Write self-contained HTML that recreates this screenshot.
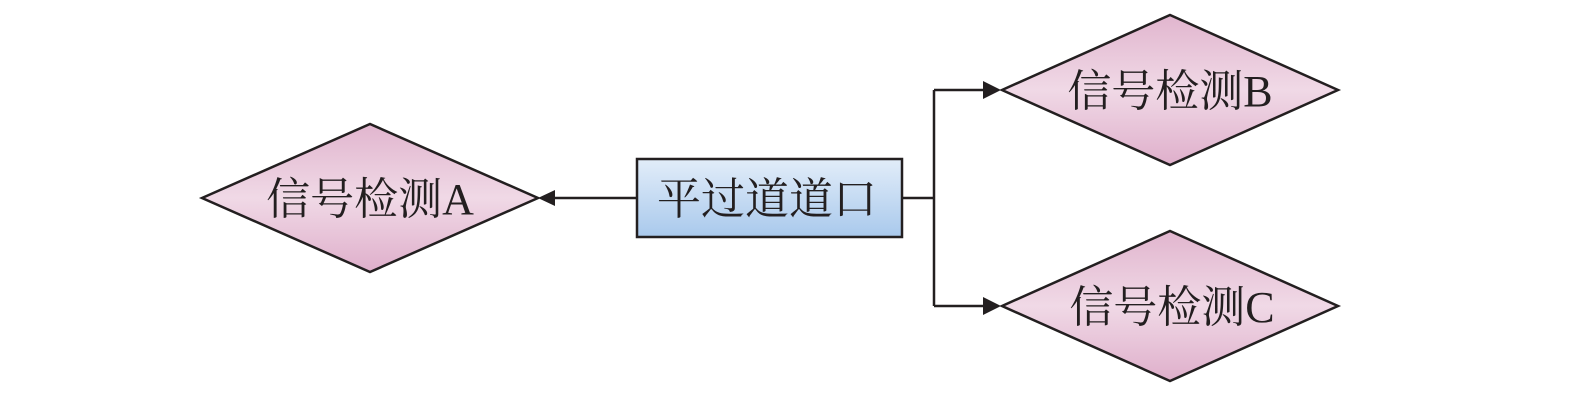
<!DOCTYPE html>
<html>
<head>
<meta charset="utf-8">
<style>
html,body{margin:0;padding:0;background:#fff;}
svg{display:block;}
text{font-family:"Liberation Serif","Noto Serif CJK SC","Noto Sans CJK SC",serif;font-size:44px;fill:#231f20;}
</style>
</head>
<body>
<svg width="1575" height="400" viewBox="0 0 1575 400" xmlns="http://www.w3.org/2000/svg">
<defs>
<linearGradient id="pink" x1="0" y1="0" x2="0" y2="1">
<stop offset="0" stop-color="#e1b5ce"/>
<stop offset="0.5" stop-color="#f0d9e6"/>
<stop offset="1" stop-color="#dfafcb"/>
</linearGradient>
<linearGradient id="blue" x1="0" y1="0" x2="0" y2="1">
<stop offset="0" stop-color="#e2edf9"/>
<stop offset="1" stop-color="#a9c9ec"/>
</linearGradient>
</defs>
<g stroke="#231f20" stroke-width="2.5" fill="none">
<line x1="636" y1="198" x2="552" y2="198"/>
<polyline points="902,198 934,198"/>
<polyline points="934,90 934,306"/>
<line x1="934" y1="90" x2="986" y2="90"/>
<line x1="934" y1="306" x2="986" y2="306"/>
</g>
<g fill="#231f20">
<polygon points="538,198 555,190 555,206"/>
<polygon points="1001,90 983,81 983,99"/>
<polygon points="1001,306 983,297 983,315"/>
</g>
<g stroke="#231f20" stroke-width="2.5">
<polygon points="202,198 370,124 538,198 370,272" fill="url(#pink)"/>
<polygon points="1002,90 1170,15 1338,90 1170,165" fill="url(#pink)"/>
<polygon points="1002,306 1170,231 1338,306 1170,381" fill="url(#pink)"/>
<rect x="637" y="159" width="265" height="78" fill="url(#blue)"/>
</g>
<text x="370" y="214" text-anchor="middle">信号检测A</text>
<text x="1170" y="106" text-anchor="middle">信号检测B</text>
<text x="1172" y="322" text-anchor="middle">信号检测C</text>
<text x="767" y="214" text-anchor="middle">平过道道口</text>
</svg>
</body>
</html>
